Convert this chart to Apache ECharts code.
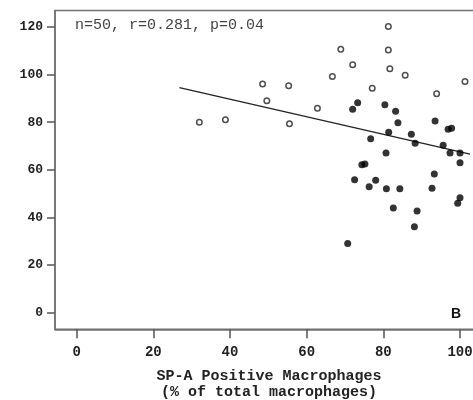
<!DOCTYPE html>
<html><head><meta charset="utf-8">
<script src="https://cdn.jsdelivr.net/npm/echarts@6/dist/echarts.min.js"></script>
<style>html,body{margin:0;padding:0;background:#fff}#c{width:473px;height:400px}</style>
</head><body><div id="c"></div>
<script>
// Open circles (x, y)
const openPoints = [
  [32.0, 80.0], [38.8, 81.0], [48.5, 96.1], [55.3, 95.3], [49.6, 89.0], [55.5, 79.4], [62.8, 85.9],
  [81.3, 120.2], [68.9, 110.7], [81.3, 110.3], [72.0, 104.2], [81.7, 102.5], [85.7, 99.7],
  [66.7, 99.2], [101.3, 97.1], [77.1, 94.3], [93.9, 92.0]
];
// Filled dots (x, y)
const filledPoints = [
  [73.3, 88.2], [72.0, 85.5], [80.4, 87.3], [83.2, 84.6], [83.8, 79.8], [93.5, 80.5],
  [96.9, 77.1], [97.8, 77.5], [81.4, 75.8], [87.3, 75.0], [76.7, 73.1], [88.3, 71.2],
  [95.6, 70.3], [97.4, 67.1], [100.0, 67.1], [80.7, 67.1], [100.0, 63.0], [74.4, 62.1],
  [75.2, 62.4], [93.3, 58.2], [72.5, 55.8], [78.0, 55.6], [76.3, 52.9], [80.8, 52.0],
  [84.3, 52.0], [92.7, 52.3], [100.0, 48.3], [99.4, 46.0], [82.6, 44.0], [88.8, 42.7],
  [88.1, 36.1], [70.7, 29.0]
];
// Regression line end points
const fitLine = [[26.8, 94.5], [102.6, 66.6]];
const xTicks = [0, 20, 40, 60, 80, 100];
const yTicks = [0, 20, 40, 60, 80, 100, 120];
const statsText = 'n=50, r=0.281, p=0.04';
const xTitle = 'SP-A Positive Macrophages\n(% of total macrophages)';
const panelLabel = 'B';

const frame = '#707070';
const chart = echarts.init(document.getElementById('c'), null, {renderer: 'canvas'});
chart.setOption({
  animation: false,
  grid: {left: 55, top: 10.6, width: 428, height: 318.7, show: true, borderColor: frame, borderWidth: 1.5,
    backgroundColor: 'transparent', outerBoundsMode: 'none', containLabel: false},
  xAxis: {
    type: 'value', min: -5.66, max: 106,
    splitLine: {show: false},
    axisLine: {show: true, onZero: false, lineStyle: {color: frame, width: 1.5}},
    axisTick: {show: true, length: 9, customValues: xTicks, lineStyle: {color: '#555', width: 1.5}},
    axisLabel: {customValues: xTicks, margin: 16, color: '#222', fontFamily: 'Liberation Mono', fontWeight: 'bold', fontSize: 14, hideOverlap: false},
    name: xTitle, nameLocation: 'middle', nameGap: 39,
    nameTextStyle: {color: '#222', fontFamily: 'Liberation Mono', fontWeight: 'bold', fontSize: 15, lineHeight: 16}
  },
  yAxis: {
    type: 'value', min: -7, max: 126.9,
    splitLine: {show: false},
    axisLine: {show: true, onZero: false, lineStyle: {color: frame, width: 1.5}},
    axisTick: {show: true, length: 8, customValues: yTicks, lineStyle: {color: '#555', width: 1.5}},
    axisLabel: {customValues: yTicks, margin: 12, color: '#222', fontFamily: 'Liberation Mono', fontWeight: 'bold', fontSize: 13}
  },
  graphic: [
    {type: 'text', left: 75, top: 18, style: {text: statsText, fill: '#444', font: '15px "Liberation Mono"'}},
    {type: 'text', left: 451, top: 307, style: {text: panelLabel, fill: '#111', font: 'bold 14px "Liberation Sans"'}}
  ],
  series: [
    {type: 'line', data: fitLine, symbol: 'none', lineStyle: {color: '#222', width: 1.3}, z: 1},
    {type: 'scatter', data: openPoints, symbol: 'circle', symbolSize: 5.5,
      itemStyle: {color: '#fff', borderColor: '#222', borderWidth: 1.5}, z: 2},
    {type: 'scatter', data: filledPoints, symbol: 'circle', symbolSize: 7,
      itemStyle: {color: '#000'}, z: 3}
  ]
});
</script></body></html>
